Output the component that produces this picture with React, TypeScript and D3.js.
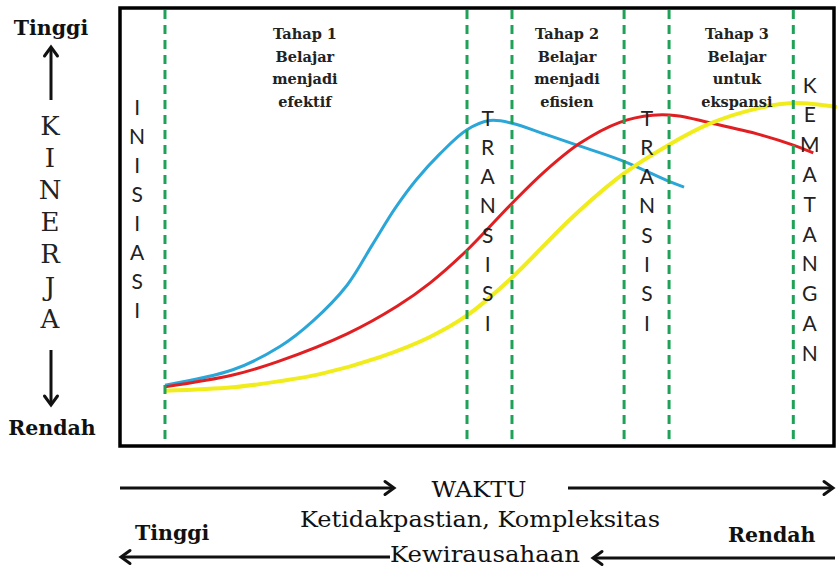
import React from "react";
import * as d3 from "d3";

// ---- data (time 0-100, kinerja 0-100) ----
const blueSeries: [number, number][] = [
  [6.3, 13.9], [15.8, 17.4], [22.4, 22.7], [27.0, 28.5], [31.8, 36.7], [35.4, 46.1],
  [38.5, 54.2], [41.5, 60.8], [44.8, 66.7], [48.6, 72.2], [51.8, 74.3], [54.9, 73.7],
  [59.5, 71.2], [64.0, 68.7], [70.4, 65.1], [76.9, 60.4], [79.0, 59.1],
];
const redSeries: [number, number][] = [
  [6.3, 13.5], [15.8, 16.2], [22.0, 19.2], [31.8, 25.6], [38.8, 31.9], [43.4, 37.2],
  [48.6, 44.7], [54.6, 54.9], [59.5, 62.7], [64.4, 69.1], [70.0, 73.9], [74.6, 75.5],
  [78.0, 75.4], [82.6, 73.8], [89.6, 71.1], [94.3, 68.7], [97.1, 66.9],
];
const yellowSeries: [number, number][] = [
  [6.3, 12.6], [15.8, 13.4], [22.0, 14.7], [28.0, 16.4], [36.4, 20.3], [43.4, 24.9],
  [48.6, 29.8], [54.6, 38.0], [63.4, 52.3], [70.4, 62.0], [76.9, 68.8], [82.6, 73.6],
  [89.6, 77.2], [94.3, 78.3], [100.4, 77.4],
];
const phaseBoundaries = [6.3, 48.6, 54.9, 70.6, 76.9, 94.3];
const stageTitles = ["Tahap 1", "Tahap 2", "Tahap 3"];
const stageLines = [
  ["Belajar", "menjadi", "efektif"],
  ["Belajar", "menjadi", "efisien"],
  ["Belajar", "untuk", "ekspansi"],
];
const stageCenters = [25.9, 62.6, 86.4];
const verticalWords = ["INISIASI", "TRANSISI", "TRANSISI", "KEMATANGAN"];
const verticalWordX = [2.4, 51.5, 73.8, 96.6];
const yAxisWord = "KINERJA";
const yHigh = "Tinggi";
const yLow = "Rendah";
const xAxisLabel = "WAKTU";
const uncertaintyLabel = "Ketidakpastian, Kompleksitas";
const entrepreneurLabel = "Kewirausahaan";

const W = 837;
const H = 567;
const BOX = { l: 120, t: 8, r: 834, b: 446 };

const x = d3.scaleLinear().domain([0, 100]).range([BOX.l, BOX.r]);
const y = d3.scaleLinear().domain([0, 100]).range([BOX.b, BOX.t]);
const line = d3
  .line<[number, number]>()
  .x((d) => x(d[0]))
  .y((d) => y(d[1]))
  .curve(d3.curveCatmullRom.alpha(0.5));

function Arrow({ x1, y1, x2, y2 }: { x1: number; y1: number; x2: number; y2: number }) {
  const dx = x2 - x1;
  const dy = y2 - y1;
  const len = Math.sqrt(dx * dx + dy * dy);
  const ux = dx / len;
  const uy = dy / len;
  const hl = 9;
  const hw = 6.5;
  const bx = x2 - ux * hl;
  const by = y2 - uy * hl;
  const p1 = [bx - uy * hw, by + ux * hw];
  const p2 = [bx + uy * hw, by - ux * hw];
  return (
    <g stroke="#111" fill="none" strokeWidth={3}>
      <line x1={x1} y1={y1} x2={x2 - ux * 1.5} y2={y2 - uy * 1.5} />
      <path
        d={`M${p1[0]},${p1[1]} L${x2},${y2} L${p2[0]},${p2[1]}`}
        strokeLinecap="round"
        strokeLinejoin="miter"
      />
    </g>
  );
}

export default function App() {
  const serif = "'DejaVu Serif', serif";
  const sans = "Lato, 'Open Sans', sans-serif";
  const vStarts = [107, 118, 118, 85];
  const vSteps = [29, 29.3, 29.3, 29.8];
  return (
    <svg
      width={W}
      height={H}
      viewBox={`0 0 ${W} ${H}`}
      style={{ position: "absolute", left: 0, top: 0, background: "#fff" }}
    >
      <rect x={0} y={0} width={W} height={H} fill="#fff" />
      {/* curves */}
      <path d={line(blueSeries) || ""} fill="none" stroke="#2ba6d8" strokeWidth={3} />
      <path d={line(redSeries) || ""} fill="none" stroke="#e11f22" strokeWidth={3} />
      <path d={line(yellowSeries) || ""} fill="none" stroke="#f1ec1b" strokeWidth={4} />
      {/* dashed phase lines */}
      {phaseBoundaries.map((b, i) => (
        <line
          key={i}
          x1={x(b)}
          x2={x(b)}
          y1={BOX.t + 2}
          y2={BOX.b}
          stroke="#1fa257"
          strokeWidth={3}
          strokeDasharray="9,6"
        />
      ))}
      {/* box */}
      <rect
        x={BOX.l}
        y={BOX.t}
        width={BOX.r - BOX.l}
        height={BOX.b - BOX.t}
        fill="none"
        stroke="#000"
        strokeWidth={3.5}
      />
      {/* stage labels */}
      {stageTitles.map((t, i) => (
        <text
          key={t}
          x={x(stageCenters[i])}
          textAnchor="middle"
          fontFamily={serif}
          fontWeight="bold"
          fontSize={14.5}
          fill="#222"
        >
          {[t, ...stageLines[i]].map((s, j) => (
            <tspan key={j} x={x(stageCenters[i])} y={39 + j * 22.7}>
              {s}
            </tspan>
          ))}
        </text>
      ))}
      {/* vertical words */}
      {verticalWords.map((w, i) => (
        <g key={i}>
          {w.split("").map((c, j) => (
            <text
              key={j}
              x={x(verticalWordX[i])}
              y={vStarts[i] + j * vSteps[i] + 7.5}
              textAnchor="middle"
              fontFamily={sans}
              fontSize={21}
              fill="#222"
            >
              {c}
            </text>
          ))}
        </g>
      ))}
      {/* y-axis word */}
      {yAxisWord.split("").map((c, j) => (
        <text
          key={j}
          x={50}
          y={125 + j * 32.2 + 9.5}
          textAnchor="middle"
          fontFamily={serif}
          fontSize={26}
          fill="#222"
        >
          {c}
        </text>
      ))}
      <text x={51} y={35} textAnchor="middle" fontFamily={serif} fontWeight="bold" fontSize={20.5} fill="#111">
        {yHigh}
      </text>
      <text x={52} y={435} textAnchor="middle" fontFamily={serif} fontWeight="bold" fontSize={20.5} fill="#111">
        {yLow}
      </text>
      <Arrow x1={51} y1={100} x2={51} y2={47} />
      <Arrow x1={51} y1={350} x2={51} y2={405} />
      {/* bottom */}
      <Arrow x1={120} y1={488} x2={394} y2={488} />
      <Arrow x1={568} y1={488} x2={833} y2={488} />
      <text x={479} y={497} textAnchor="middle" fontFamily={serif} fontSize={23} fill="#111" textLength={95} lengthAdjust="spacingAndGlyphs">
        {xAxisLabel}
      </text>
      <text x={300} y={527} fontFamily={serif} fontSize={21.5} fill="#111" textLength={360} lengthAdjust="spacingAndGlyphs">
        {uncertaintyLabel}
      </text>
      <text x={135} y={540} fontFamily={serif} fontWeight="bold" fontSize={20.5} fill="#111">
        {yHigh}
      </text>
      <text x={728} y={542} fontFamily={serif} fontWeight="bold" fontSize={20.5} fill="#111">
        {yLow}
      </text>
      <Arrow x1={390} y1={557} x2={121} y2={557} />
      <text x={390} y={562} fontFamily={serif} fontSize={21.5} fill="#111" textLength={190} lengthAdjust="spacingAndGlyphs">
        {entrepreneurLabel}
      </text>
      <Arrow x1={835} y1={558} x2={593} y2={558} />
    </svg>
  );
}
